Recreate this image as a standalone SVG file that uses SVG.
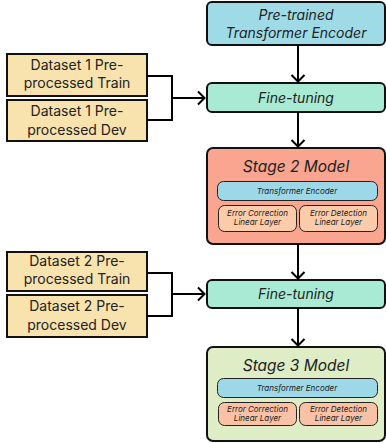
<svg xmlns="http://www.w3.org/2000/svg" width="386" height="443" viewBox="0 0 386 443">
  <defs>
    <marker id="chev" viewBox="0 0 16 16" refX="9" refY="8" markerWidth="16" markerHeight="16" markerUnits="userSpaceOnUse" orient="auto">
      <path d="M2,1.5 L8.5,8 L2,14.5" fill="none" stroke="#000" stroke-width="2" stroke-linejoin="miter"/>
    </marker>
  </defs>
  <style>
    .box { stroke: #111; stroke-width: 2; }
    .inner { stroke: #222; stroke-width: 1; }
    .ds { fill: #F8E3AF; stroke: #111; stroke-width: 2; }
    .t { font-family: Inter, "Noto Sans", "Liberation Sans", sans-serif; fill: #222; text-anchor: middle; }
    .i { font-style: italic; }
    .big { font-size: 14px; }
    .title { font-size: 15.5px; }
    .sm { font-size: 8px; }
    .wire { fill: none; stroke: #000; stroke-width: 2; }
  </style>
  <rect width="386" height="443" fill="#fff"/>

  <g id="pretrained">
    <rect class="box" x="207" y="2" width="178" height="43" rx="5" fill="#9EDBE6"/>
    <text class="t i big" x="296" y="20">Pre-trained</text>
    <text class="t i big" x="296" y="38">Transformer Encoder</text>
  </g>

  <g id="dataset1-train">
    <rect class="ds" x="7" y="54" width="140" height="42"/>
    <text class="t big" x="77" y="70">Dataset 1 Pre-</text>
    <text class="t big" x="77" y="88">processed Train</text>
  </g>
  <g id="dataset1-dev">
    <rect class="ds" x="7" y="100" width="140" height="41"/>
    <text class="t big" x="77" y="116">Dataset 1 Pre-</text>
    <text class="t big" x="77" y="135">processed Dev</text>
  </g>

  <g id="finetune1">
    <rect class="box" x="207" y="83" width="178" height="29" rx="5" fill="#A8EAD3"/>
    <text class="t i big" x="296" y="103">Fine-tuning</text>
  </g>

  <g id="stage2">
    <rect class="box" x="207" y="148" width="178" height="96" rx="6" fill="#FAA58F"/>
    <text class="t i title" x="296" y="172">Stage 2 Model</text>
    <rect class="inner" x="217.5" y="181.5" width="160" height="19" rx="6" fill="#9DD8E8"/>
    <text class="t i sm" x="297" y="194">Transformer Encoder</text>
    <rect class="inner" x="218.5" y="205.5" width="78" height="26" rx="6" fill="#FCCBAA"/>
    <text class="t i sm" x="257.5" y="216">Error Correction</text>
    <text class="t i sm" x="257.5" y="225">Linear Layer</text>
    <rect class="inner" x="299.5" y="205.5" width="78" height="26" rx="6" fill="#FCCBAA"/>
    <text class="t i sm" x="338.5" y="216">Error Detection</text>
    <text class="t i sm" x="338.5" y="225">Linear Layer</text>
  </g>

  <g id="dataset2-train">
    <rect class="ds" x="7" y="252" width="140" height="39"/>
    <text class="t big" x="77" y="266">Dataset 2 Pre-</text>
    <text class="t big" x="77" y="284">processed Train</text>
  </g>
  <g id="dataset2-dev">
    <rect class="ds" x="7" y="295" width="140" height="42"/>
    <text class="t big" x="77" y="311">Dataset 2 Pre-</text>
    <text class="t big" x="77" y="330">processed Dev</text>
  </g>

  <g id="finetune2">
    <rect class="box" x="207" y="280" width="178" height="28" rx="5" fill="#A8EAD3"/>
    <text class="t i big" x="296" y="299">Fine-tuning</text>
  </g>

  <g id="stage3">
    <rect class="box" x="207" y="347" width="178" height="94" rx="6" fill="#DEEDC5"/>
    <text class="t i title" x="296" y="371">Stage 3 Model</text>
    <rect class="inner" x="217.5" y="378.5" width="160" height="19" rx="6" fill="#9DD8E8"/>
    <text class="t i sm" x="297" y="391">Transformer Encoder</text>
    <rect class="inner" x="218.5" y="402.5" width="78" height="23" rx="6" fill="#F9C1A5"/>
    <text class="t i sm" x="257.5" y="412">Error Correction</text>
    <text class="t i sm" x="257.5" y="421">Linear Layer</text>
    <rect class="inner" x="299.5" y="402.5" width="78" height="23" rx="6" fill="#F9C1A5"/>
    <text class="t i sm" x="338.5" y="412">Error Detection</text>
    <text class="t i sm" x="338.5" y="421">Linear Layer</text>
  </g>

  <g id="connectors">
    <path class="wire" d="M298,45 V82" marker-end="url(#chev)"/>
    <path class="wire" d="M298,112 V147" marker-end="url(#chev)"/>
    <path class="wire" d="M298,244 V279" marker-end="url(#chev)"/>
    <path class="wire" d="M298,308 V346" marker-end="url(#chev)"/>
    <path class="wire" d="M147,76 H172 V120 H147"/>
    <path class="wire" d="M172,98 H205" marker-end="url(#chev)"/>
    <path class="wire" d="M147,273 H172 V316 H147"/>
    <path class="wire" d="M172,294 H205" marker-end="url(#chev)"/>
  </g>
</svg>
